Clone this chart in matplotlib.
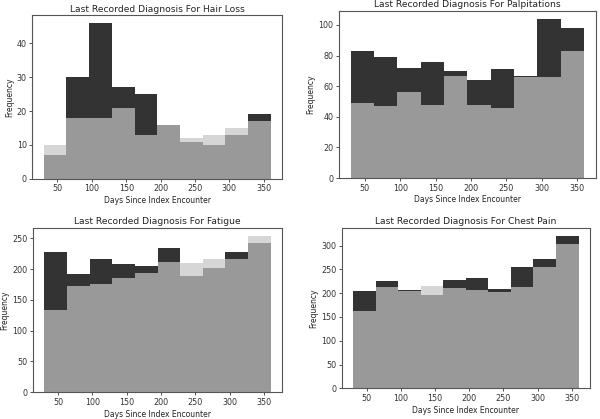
import numpy as np
import matplotlib
matplotlib.use("Agg")
import matplotlib.pyplot as plt

bin_edges = [30, 63, 96, 129, 162, 195, 228, 261, 294, 327, 360]

hair_dark = [7, 30, 46, 27, 25, 16, 11, 10, 13, 19]
hair_light = [10, 18, 18, 21, 13, 16, 12, 13, 15, 17]

palp_dark = [83, 79, 72, 76, 70, 64, 71, 67, 104, 98]
palp_light = [49, 47, 56, 48, 67, 48, 46, 66, 66, 83]

fat_dark = [227, 192, 216, 208, 205, 234, 188, 201, 228, 243]
fat_light = [134, 173, 175, 186, 194, 212, 209, 216, 217, 254]

chest_dark = [204, 226, 206, 197, 227, 231, 208, 255, 272, 321]
chest_light = [162, 213, 204, 215, 211, 206, 202, 214, 256, 304]

titles = ["Last Recorded Diagnosis For Hair Loss",
          "Last Recorded Diagnosis For Palpitations",
          "Last Recorded Diagnosis For Fatigue",
          "Last Recorded Diagnosis For Chest Pain"]
xlabel = "Days Since Index Encounter"
ylabel = "Frequency"

positions = [
    [0.054, 0.573, 0.416, 0.391],
    [0.565, 0.575, 0.428, 0.399],
    [0.055, 0.064, 0.415, 0.392],
    [0.570, 0.073, 0.413, 0.383],
]
yticks = [[0, 10, 20, 30, 40], [0, 20, 40, 60, 80, 100],
          [0, 50, 100, 150, 200, 250], [0, 50, 100, 150, 200, 250, 300]]

series = [(hair_dark, hair_light), (palp_dark, palp_light),
          (fat_dark, fat_light), (chest_dark, chest_light)]

fig = plt.figure(figsize=(6.0, 4.19), dpi=100)
edges = np.array(bin_edges, dtype=float)
left_edges = edges[:-1]

for pos, (dark, light), title, yt in zip(positions, series, titles, yticks):
    ax = fig.add_axes(pos)
    ax.hist(left_edges, bins=edges, weights=dark, color="#333333")
    ax.hist(left_edges, bins=edges, weights=light, color="#c5c5c5", alpha=0.70)
    ax.set_title(title, fontsize=6.6, color="#222222", pad=2.5)
    ax.set_xlabel(xlabel, fontsize=5.5, color="#222222", labelpad=2)
    ax.set_ylabel(ylabel, fontsize=5.5, color="#222222", labelpad=2)
    ax.set_xticks([50, 100, 150, 200, 250, 300, 350])
    ax.set_yticks(yt)
    ax.tick_params(labelsize=5.8, length=2.5, width=0.6, pad=1.5, colors="#333333")
    for s in ax.spines.values():
        s.set_color("#555555")
        s.set_linewidth(0.8)

fig.savefig("out.png", dpi=100)
